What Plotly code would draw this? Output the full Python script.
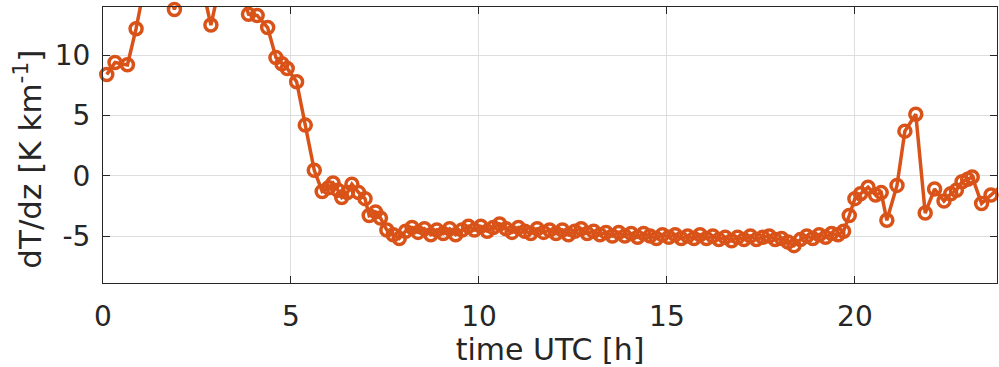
import plotly.graph_objects as go

# time (UTC hours) and temperature gradient (K/km)
time_h = [0.10, 0.32, 0.65, 0.88, 1.12, 1.38, 1.62, 1.90, 2.12, 2.38, 2.62, 2.87,
          3.12, 3.38, 3.62, 3.87, 4.10, 4.38, 4.60, 4.76, 4.90, 5.15, 5.38, 5.62,
          5.83, 6.00, 6.12, 6.25, 6.35, 6.50, 6.62, 6.80, 6.97, 7.08, 7.25, 7.38,
          7.55, 7.72, 7.88, 8.05, 8.22, 8.38, 8.55, 8.72, 8.88, 9.05, 9.22, 9.38,
          9.55, 9.72, 9.88, 10.05, 10.22, 10.38, 10.55, 10.72, 10.88, 11.05, 11.22,
          11.38, 11.55, 11.72, 11.88, 12.05, 12.22, 12.38, 12.55, 12.72, 12.88,
          13.05, 13.22, 13.38, 13.55, 13.72, 13.88, 14.05, 14.22, 14.38, 14.55,
          14.72, 14.88, 15.05, 15.22, 15.38, 15.55, 15.72, 15.88, 16.05, 16.22,
          16.38, 16.55, 16.72, 16.88, 17.05, 17.22, 17.38, 17.55, 17.72, 17.88,
          18.05, 18.22, 18.38, 18.55, 18.72, 18.88, 19.05, 19.22, 19.38, 19.55,
          19.70, 19.85, 20.00, 20.15, 20.35, 20.55, 20.70, 20.85, 21.12, 21.33,
          21.62, 21.87, 22.12, 22.37, 22.55, 22.70, 22.85, 23.00, 23.12, 23.37,
          23.62, 23.87]
dTdz = [8.4, 9.4, 9.2, 12.2, 16.0, 17.0, 16.5, 13.8, 16.0, 17.0, 16.0, 12.5,
        16.0, 17.0, 16.0, 13.4, 13.3, 12.3, 9.8, 9.3, 8.9, 7.8, 4.2, 0.45,
        -1.3, -1.0, -0.6, -1.2, -1.8, -1.4, -0.7, -1.4, -1.9, -3.3, -3.0, -3.5,
        -4.5, -4.9, -5.2, -4.6, -4.3, -4.7, -4.4, -4.9, -4.5, -4.8, -4.4, -4.9,
        -4.5, -4.2, -4.5, -4.2, -4.6, -4.3, -4.0, -4.4, -4.7, -4.3, -4.6,
        -4.8, -4.4, -4.7, -4.5, -4.8, -4.5, -4.9, -4.6, -4.4, -4.8,
        -4.6, -4.9, -4.7, -5.0, -4.7, -5.0, -4.8, -5.1, -4.8, -5.0,
        -5.2, -4.9, -5.1, -4.9, -5.2, -5.0, -5.2, -4.9, -5.2, -5.0,
        -5.3, -5.1, -5.4, -5.1, -5.3, -5.0, -5.3, -5.1, -5.0, -5.3,
        -5.2, -5.5, -5.8, -5.3, -5.0, -5.2, -4.9, -5.1, -4.8, -4.9,
        -4.6, -3.3, -1.9, -1.5, -0.95, -1.6, -1.4, -3.7, -0.8, 3.7,
        5.1, -3.1, -1.1, -2.1, -1.5, -1.2, -0.5, -0.3, -0.1, -2.3,
        -1.6, -0.9]
assert len(time_h) == len(dTdz)

x_ticks = [0, 5, 10, 15, 20]
x_tick_labels = ["0", "5", "10", "15", "20"]
y_ticks = [-5, 0, 5, 10]
y_tick_labels = ["-5", "0", "5", "10"]

COLOR = "#D95319"
AXC = "#262626"
FONT = "DejaVu Sans"

fig = go.Figure(go.Scatter(
    x=time_h, y=dTdz, mode="lines+markers",
    line=dict(color=COLOR, width=3.5),
    marker=dict(symbol="circle-open", size=12, color=COLOR,
                line=dict(color=COLOR, width=3.5)),
    cliponaxis=False,
))

axis_common = dict(
    showline=True, linecolor=AXC, linewidth=1, mirror="ticks",
    ticks="inside", ticklen=7, tickwidth=1, tickcolor=AXC,
    showgrid=True, gridcolor="#dedede", gridwidth=1,
    zeroline=False,
    tickfont=dict(family=FONT, size=28, color=AXC),
)

fig.update_xaxes(range=[0, 23.78], tickvals=x_ticks, ticktext=x_tick_labels,
                 ticklabelstandoff=8,
                 title=dict(text="time UTC [h]", font=dict(family=FONT, size=30, color=AXC),
                            standoff=6),
                 **axis_common)
fig.update_yaxes(range=[-8.9, 14.0], tickvals=y_ticks, ticktext=y_tick_labels,
                 ticklabelstandoff=6,
                 **axis_common)

fig.add_annotation(
    text="dT/dz [K km<sup>-1</sup>]", textangle=-90,
    xref="paper", yref="paper", x=-0.084, y=0.45,
    xanchor="center", yanchor="middle", showarrow=False,
    font=dict(family=FONT, size=31, color=AXC),
)

fig.update_layout(
    width=999, height=367,
    margin=dict(l=103, r=2, t=7, b=84),
    paper_bgcolor="white", plot_bgcolor="white",
    showlegend=False,
    font=dict(family=FONT, color=AXC),
)

fig.write_html("out.html")
